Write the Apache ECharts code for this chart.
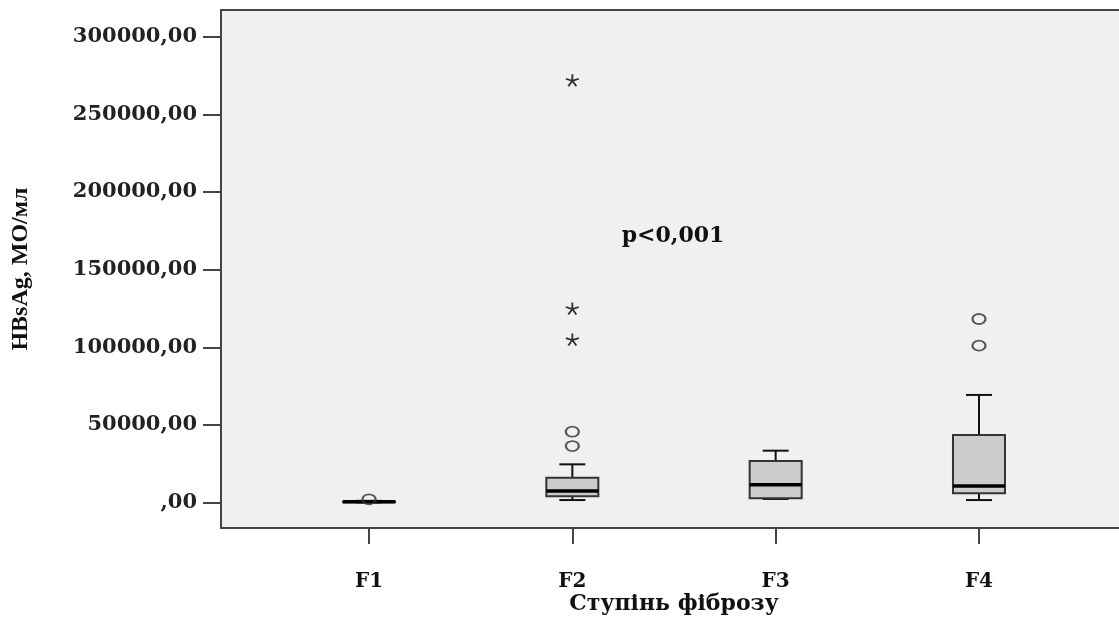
<!DOCTYPE html>
<html>
<head>
<meta charset="utf-8">
<script src="https://cdn.jsdelivr.net/npm/echarts@6/dist/echarts.min.js"></script>
<style>
html,body{margin:0;padding:0;background:#fff;}
#chart{width:1119px;height:617px;}
</style>
</head>
<body>
<div id="chart"></div>
<script>
// ---- data ----
var categories = ['F1', 'F2', 'F3', 'F4'];
var boxMin    = [100,   1600,  2300,  1600];
var boxQ1     = [250,   4000,  2700,  5900];
var boxMedian = [450,   7400,  11500, 10600];
var boxQ3     = [700,   16000, 26700, 43500];
var boxMax    = [1100,  24600, 33400, 69300];
var circleCat = ['F1', 'F2', 'F2', 'F4', 'F4'];
var circleVal = [2100, 36400, 45600, 101000, 118200];
var starCat   = ['F2', 'F2', 'F2'];
var starVal   = [105000, 125000, 272000];
var yTicks    = [0, 50000, 100000, 150000, 200000, 250000, 300000];
var pText     = 'p<0,001';
var xTitle    = 'Ступінь фіброзу';
var yTitle    = 'HBsAg, МО/мл';

// ---- build ----
function pos(c) { return categories.indexOf(c) + 1; }
var boxData = categories.map(function (c, i) {
  return [i + 1, boxMin[i], boxQ1[i], boxMedian[i], boxQ3[i], boxMax[i]];
});
var circleData = circleCat.map(function (c, i) { return [pos(c), circleVal[i]]; });
var starData = starCat.map(function (c, i) { return [pos(c), starVal[i]]; });

var chart = echarts.init(document.getElementById('chart'), null, {renderer: 'canvas'});
var BOX_W = 52, CAP_W = 26;

function renderBox(params, api) {
  var x = api.value(0);
  var pMin = api.coord([x, api.value(1)]);
  var pQ1 = api.coord([x, api.value(2)]);
  var pMed = api.coord([x, api.value(3)]);
  var pQ3 = api.coord([x, api.value(4)]);
  var pMax = api.coord([x, api.value(5)]);
  var cx = pMed[0];
  var lineStyle = {stroke: '#111', lineWidth: 2};
  return {
    type: 'group',
    children: [
      {type: 'line', shape: {x1: cx, y1: pQ3[1], x2: cx, y2: pMax[1]}, style: lineStyle},
      {type: 'line', shape: {x1: cx - CAP_W / 2, y1: pMax[1], x2: cx + CAP_W / 2, y2: pMax[1]}, style: lineStyle},
      {type: 'line', shape: {x1: cx, y1: pMin[1], x2: cx, y2: pQ1[1]}, style: lineStyle},
      {type: 'line', shape: {x1: cx - CAP_W / 2, y1: pMin[1], x2: cx + CAP_W / 2, y2: pMin[1]}, style: lineStyle},
      {type: 'rect', shape: {x: cx - BOX_W / 2, y: pQ3[1], width: BOX_W, height: pQ1[1] - pQ3[1]},
        style: {fill: '#cccccc', stroke: '#333', lineWidth: 2}},
      {type: 'line', shape: {x1: cx - BOX_W / 2, y1: pMed[1], x2: cx + BOX_W / 2, y2: pMed[1]},
        style: {stroke: '#000', lineWidth: 3.5}}
    ]
  };
}

var frameLine = {show: true, onZero: false, lineStyle: {color: '#444', width: 2}};
var X_MIN = 0.272, X_MAX = 4.728, Y_MIN = -16400, Y_MAX = 317200;

var option = {
  backgroundColor: '#ffffff',
  animation: false,
  grid: {
    left: 221, top: 10, width: 906, height: 518,
    show: false, containLabel: false, outerBoundsMode: 'none'
  },
  xAxis: [{
    type: 'value', min: X_MIN, max: X_MAX, position: 'bottom',
    name: xTitle, nameLocation: 'middle', nameGap: 65, nameMoveOverlap: false,
    nameTextStyle: {fontFamily: 'DejaVu Serif', fontWeight: 'bold', fontSize: 22, color: '#111'},
    axisLine: frameLine,
    splitLine: {show: false},
    axisTick: {show: true, length: 16, customValues: [1, 2, 3, 4], lineStyle: {color: '#444', width: 2}},
    axisLabel: {
      customValues: [1, 2, 3, 4], margin: 44,
      fontFamily: 'DejaVu Serif', fontWeight: 'bold', fontSize: 20, color: '#111',
      formatter: function (v) { return categories[Math.round(v) - 1] || ''; }
    }
  }, {
    type: 'value', min: X_MIN, max: X_MAX, position: 'top',
    axisLine: frameLine, axisTick: {show: false}, axisLabel: {show: false}, splitLine: {show: false}
  }],
  yAxis: {
    type: 'value', min: Y_MIN, max: Y_MAX,
    name: yTitle, nameLocation: 'middle', nameGap: 188, nameRotate: 90, nameMoveOverlap: false,
    nameTextStyle: {fontFamily: 'Liberation Serif', fontWeight: 'bold', fontSize: 24, color: '#111'},
    axisLine: frameLine,
    splitLine: {show: false},
    axisTick: {show: true, length: 18, customValues: yTicks, lineStyle: {color: '#444', width: 2}},
    axisLabel: {
      customValues: yTicks, margin: 24,
      fontFamily: 'DejaVu Serif', fontWeight: 'bold', fontSize: 21, color: '#222',
      formatter: function (v) { return v === 0 ? ',00' : v + ',00'; }
    }
  },
  series: [
    {type: 'custom', renderItem: renderBox, data: boxData, encode: {x: 0, y: [1, 2, 3, 4, 5]}, z: 2},
    {type: 'scatter', data: circleData, symbol: 'circle', symbolSize: [13, 10],
      itemStyle: {color: 'rgba(0,0,0,0)', borderColor: '#333', borderWidth: 2}, z: 3},
    {type: 'scatter', data: starData,
      symbol: 'path://M0,-10L0,0M0,0L9.5,-3.1M0,0L5.9,8.1M0,0L-5.9,8.1M0,0L-9.5,-3.1',
      symbolSize: [13, 12],
      itemStyle: {color: 'rgba(0,0,0,0)', borderColor: '#000', borderWidth: 1.8}, z: 3}
  ]
};
chart.setOption(option);

// plot background and centred annotation, placed through the axes
var tl = chart.convertToPixel({gridIndex: 0}, [X_MIN, Y_MAX]);
var br = chart.convertToPixel({gridIndex: 0}, [X_MAX, Y_MIN]);
chart.setOption({
  graphic: [{
    type: 'rect', z: -10, silent: true,
    shape: {x: tl[0], y: tl[1], width: br[0] - tl[0], height: br[1] - tl[1]},
    style: {fill: '#f0f0f0'}
  }, {
    type: 'text', x: (tl[0] + br[0]) / 2 - 1, y: 236, z: 10,
    style: {text: pText, fill: '#111', font: 'bold 22px "DejaVu Serif"', textAlign: 'center', textVerticalAlign: 'middle'}
  }]
});
</script>
</body>
</html>
